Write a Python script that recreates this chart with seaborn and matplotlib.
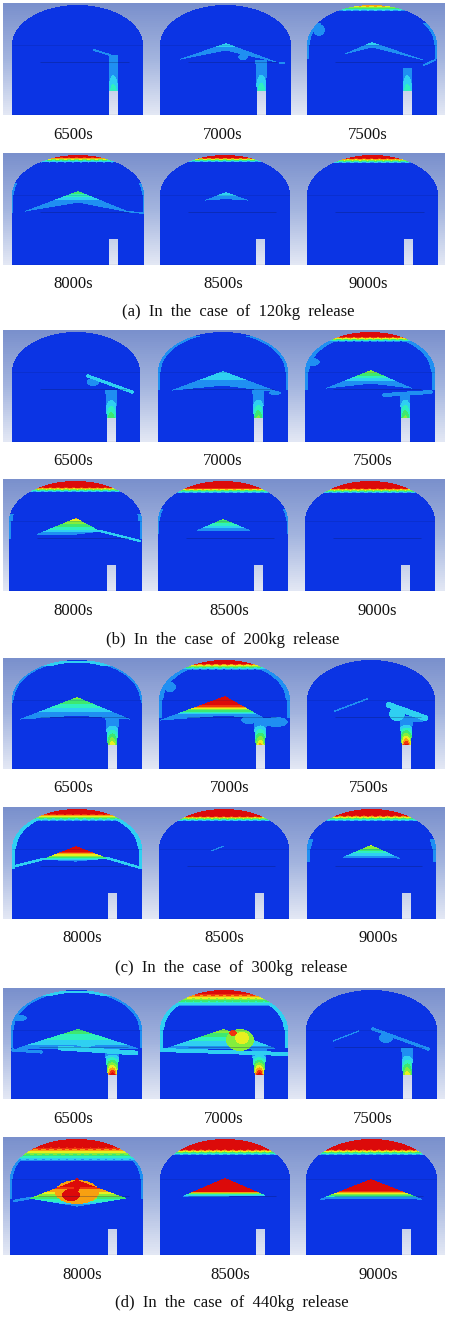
import numpy as np
import matplotlib
matplotlib.use("Agg")
import matplotlib.pyplot as plt
from matplotlib.colors import ListedColormap, LinearSegmentedColormap
import seaborn as sns

W, H = 450, 1317
nan = float("nan")

# strips of three contour panels (pixel rows in the reference)
strip_top = [3, 153, 330, 479, 658, 807, 988, 1137]
strip_bottom = [115, 265, 442, 591, 769, 919, 1099, 1255]
dome_left = [[12,160,307],[12,160,307],[12,158,305],[9,158,305],[12,159,307],[12,159,307],[11,160,306],[10,160,306]]
dome_right = [[143,291,437],[144,290,438],[140,288,435],[142,288,435],[142,290,435],[142,289,436],[142,288,437],[143,290,437]]
chim_left = [[109,257,403],[109,256,404],[107,254,401],[107,254,401],[108,256,402],[108,255,402],[108,255,403],[108,256,402]]

time_text = ["6500s","7000s","7500s","8000s","8500s","9000s"]
label_y = [135, 284, 461, 611, 788, 938, 1119, 1275]
label_x = [[73,223,368],[73,223,368],[73,223,373],[73,229,377],[73,230,369],[82,224,378],[73,224,373],[82,230,378]]
caption_text = ["(a)  In  the  case  of  120kg  release","(b)  In  the  case  of  200kg  release",
                "(c)  In  the  case  of  300kg  release","(d)  In  the  case  of  440kg  release"]
caption_y = [312, 640, 968, 1303]
caption_x = [238, 223, 231, 232]

# hydrogen cap under the dome: depth of the red part, depth of the edge, peak level
cap_red  = [0,0,3, 4,4.5,5, 0,0,6.5, 8,8.5,9, 0,5,0, 6.5,9,8, 0,4.5,0, 9,12,12]
cap_edge = [0,0,8, 9.3,9,10, 0,0,11.7, 13,14,14, 0,11.7,0, 14,14,14, 0,18,0, 24,18,18]
cap_peak = [0,0,.75, 1,1,1, 0,0,1, 1,1,1, 0,1,0, 1,1,1, 0,1,0, 1,1,1]

# cone under the intermediate floor, read per panel
cone_ax = [nan,66,65, 66,66,nan, nan,65,66, 67,65,nan, 65,66,nan, 64,nan,64, 67,64,nan, 67,65,65]
cone_ay = [nan,40,39, 38,39,nan, nan,41,40, 39,40,nan, 39,38,nan, 39,nan,38, 41,41,nan, 43,41,42]
cone_lx = [nan,20,37, 13,45,nan, nan,14,21, 28,39,nan, 8,1,nan, 31,nan,36, 6,7,nan, 20,23,14]
cone_ly = [nan,56,51, 58,47,nan, nan,60,58, 55,51,nan, 61,62,nan, 52,nan,50, 60,60,nan, 61,59,62]
cone_rx = [nan,117,117, 118,88,nan, nan,121,107, 91,92,nan, 118,107,nan, 95,nan,93, 127,115,nan, 116,105,116]
cone_ry = [nan,59,57, 59,47,nan, nan,62,58, 52,51,nan, 61,61,nan, 51,nan,51, 60,60,nan, 61,58,62]
cone_belly = [nan,47,44, 49,45.5,nan, nan,55,53, 55,51,nan, 57,57,nan, 54,nan,50, 60,60,nan, 69,59,61]
cone_hot = [nan,40,39, 38,39,nan, nan,41,40, 39,40,nan, 39,46,nan, 44,nan,38, 41,41,nan, 47,54,53]
cone_peak = [nan,.28,.3, .5,.3,nan, nan,.3,.6, .72,.55,nan, .55,1,nan, 1,nan,.65, .5,.6,nan, 1,1,1]

# plume above the release pipe
jet_peak = [.38,.4,.38, 0,0,0, .5,.55,.55, 0,0,0, .7,.75,.95, 0,0,0, 1,1,.7, 0,0,0]
jet_top  = [52,57,65, 0,0,0, 60,60,65, 0,0,0, 60,60,58, 0,0,0, 60,60,60, 0,0,0]
jet_half = [4.5,6,4.5, 0,0,0, 6,6,5, 0,0,0, 7,7,7, 0,0,0, 8,8,6, 0,0,0]

# thin streaks: x0, y0, x1, y1, half thickness, level
streaks = {
 0: [(82,47,98,52,1,.12)],
 2: [(117,62,128,57,1,.15)],
 3: [(118,59,131,60,.8,.15)],
 6: [(76,46,120,62,1.6,.2)],
 8: [(79,65,126,62,2,.18)],
 9: [(91,52,131,62,1.2,.2)],
 15: [(0,60,31,52,1.3,.22),(95,51,129,61,1.3,.22)],
 16: [(52,44,65,39,.6,.12)],
 18: [(2,62,30,64,1.6,.18),(49,60,125,65,2.4,.22)],
 19: [(0,62,127,66,2,.22)],
 20: [(27,53,53,43,.7,.15),(67,41,122,61,1.6,.18)],
 14: [(28,53,60,41,.8,.16),(82,47,118,60,3,.2)],
 21: [(4,64,20,61,1.3,.18)],
}
# rounded patches: cx, cy, rx, ry, level
patches = {
 1: [(83,54,5,3,.15),(122,60,3,1.2,.15)],
 2: [(12,27,6,6,.12)],
 6: [(81,52,6,4,.15)],
 7: [(117,63,6,2,.15)],
 8: [(7,32,8,4,.15)],
 13: [(11,29,6,5,.15),(117,64,12,5,.18),(90,62,8,4,.18)],
 14: [(110,61,10,3,.18),(90,56,8,7,.22)],
 18: [(56,57,8,4,.12),(9,30,7,3,.13),(75,52,14,7,.28)],
 19: [(80,52,14,11,.52),(82,50,7,6,.66),(73,45,4,3,.85)],
 20: [(80,50,7,5,.15)],
 21: [(67,55,22,12,.72),(61,58,9,6,.9),(67,48,3,7,.95),(82,57,6,7,.55)],
}
# film along the wall: y0, y1, thickness, level
wall_film = {
 2: [(20,56,2,.12)],
 3: [(30,60,1.5,.12)],
 7: [(6,60,2,.12)],
 8: [(10,60,3,.18)],
 9: [(35,60,2.5,.18)],
 10: [(30,55,1.5,.15)],
 12: [(3,8,3,.2),(8,45,1.5,.15)],
 13: [(8,60,3,.18)],
 15: [(12,62,3,.22)],
 17: [(32,55,3,.18)],
 18: [(3,8,3,.22),(8,60,2,.15)],
 19: [(15,60,3,.22)],
 21: [(20,62,2,.18)],
}

level_colors = ["#0b34e4","#1f8ff2","#2fd0f2","#2ef0c0","#3ee870","#84ee3c","#e8f020","#f8a010","#f03410","#dc0a0a"]
jet_bands = ListedColormap(level_colors)
sky = LinearSegmentedColormap.from_list("sky", ["#7a90cc","#a3b4de","#e2e7f4"])
SHOULDER, DOME_B, PIPE_H = 42.0, 40.0, 26.0


def panel_field(i, width, height, chim):
    y, x = np.mgrid[0:height, 0:width] + 0.5
    a = width / 2.0
    dx = x - a
    up = np.clip((SHOULDER - y) / DOME_B, 0, None)
    r = np.sqrt((dx / a) ** 2 + up ** 2)
    inside = (r <= 1) & (np.abs(dx) <= a)
    wall_dist = np.where(y < SHOULDER, (1 - r) * 45, a - np.abs(dx))
    field = np.zeros_like(x)

    if cap_peak[i] > 0:
        yw = y + .25 * np.sin(x * .8)
        lev = np.interp(yw, [cap_red[i], cap_edge[i]], [cap_peak[i], .12])
        field = np.where(yw < cap_edge[i], np.maximum(field, lev), field)

    if not np.isnan(cone_ax[i]):
        xs = [cone_lx[i], cone_ax[i], cone_rx[i]]
        top = np.interp(x, xs, [cone_ly[i], cone_ay[i], cone_ry[i]])
        bot = np.interp(x, xs, [cone_ly[i], cone_belly[i], cone_ry[i]])
        m = (x >= xs[0]) & (x <= xs[2]) & (y >= top) & (y <= bot + .6)
        lev = np.interp(y, [cone_hot[i], max(cone_belly[i], cone_hot[i] + 1)], [cone_peak[i], .14])
        field = np.where(m, np.maximum(field, lev), field)

    for (y0, y1, t, lev) in wall_film.get(i, []):
        m = (wall_dist < t) & (y >= y0) & (y <= y1)
        field = np.where(m, np.maximum(field, lev), field)

    for (x0, y0, x1, y1, t, lev) in streaks.get(i, []):
        vx, vy = x1 - x0, y1 - y0
        s = np.clip(((x - x0) * vx + (y - y0) * vy) / (vx * vx + vy * vy), 0, 1)
        d = np.hypot(x - x0 - s * vx, y - y0 - s * vy)
        field = np.where(d <= t, np.maximum(field, lev), field)

    for (cx, cy, rx, ry, lev) in patches.get(i, []):
        m = ((x - cx) / rx) ** 2 + ((y - cy) / ry) ** 2 <= 1
        field = np.where(m, np.maximum(field, lev), field)

    pipe_x = chim + 4.3
    pipe_top = height - PIPE_H
    has_jet = jet_peak[i] > 0
    base = pipe_top + 2 if has_jet else pipe_top
    if has_jet:
        half = np.interp(y, [jet_top[i], base], [jet_half[i], 4.6])
        m = (np.abs(x - pipe_x) <= half) & (y >= jet_top[i]) & (y <= base)
        lev = np.interp(y, [base - 22, base], [.13, jet_peak[i]])
        lev = np.maximum(.13, lev * (1 - .35 * (np.abs(x - pipe_x) / half) ** 2))
        field = np.where(m, np.maximum(field, lev), field)
    pipe = (x >= chim) & (x <= chim + 8.6) & (y >= base)
    return field, inside & ~pipe


def pixel_axes(fig, x0, x1, y0, y1):
    return fig.add_axes([x0 / W, 1 - y1 / H, (x1 - x0) / W, (y1 - y0) / H])


sns.set_theme(style="white")
plt.rcParams["font.family"] = ["Liberation Serif", "DejaVu Serif"]
fig = plt.figure(figsize=(W / 100, H / 100), dpi=100, facecolor="white")

for s in range(8):
    t, b = strip_top[s], strip_bottom[s]
    ax = pixel_axes(fig, 3, 445, t, b)
    sns.heatmap(np.linspace(0, 1, 56)[:, None], cmap=sky, vmin=0, vmax=1, cbar=False,
                xticklabels=False, yticklabels=False, ax=ax)
    for c in range(3):
        i = s * 3 + c
        l, r = dome_left[s][c], dome_right[s][c]
        field, shown = panel_field(i, r - l, b - t, chim_left[s][c] - l)
        ax = pixel_axes(fig, l, r, t, b)
        sns.heatmap(field, mask=~shown, cmap=jet_bands, vmin=0, vmax=1, cbar=False,
                    xticklabels=False, yticklabels=False, ax=ax)
        ax.patch.set_alpha(0)
        ax.hlines([41.5], 0, r - l, color="#0a1a70", lw=.4, alpha=.3)
        ax.hlines([59], 28, r - l - 14, color="#081550", lw=.5, alpha=.4)
        ax.hlines([b - t - .5], 0, r - l, color="#0a1450", lw=.8)
        fig.text(label_x[s][c] / W, 1 - label_y[s] / H, time_text[(s % 2) * 3 + c],
                 fontsize=12, ha="center", va="center", color="#111111")

for k in range(4):
    fig.text(caption_x[k] / W, 1 - caption_y[k] / H, caption_text[k],
             fontsize=12, ha="center", va="center", color="#111111")

fig.savefig("out.png", dpi=100, facecolor="white")
